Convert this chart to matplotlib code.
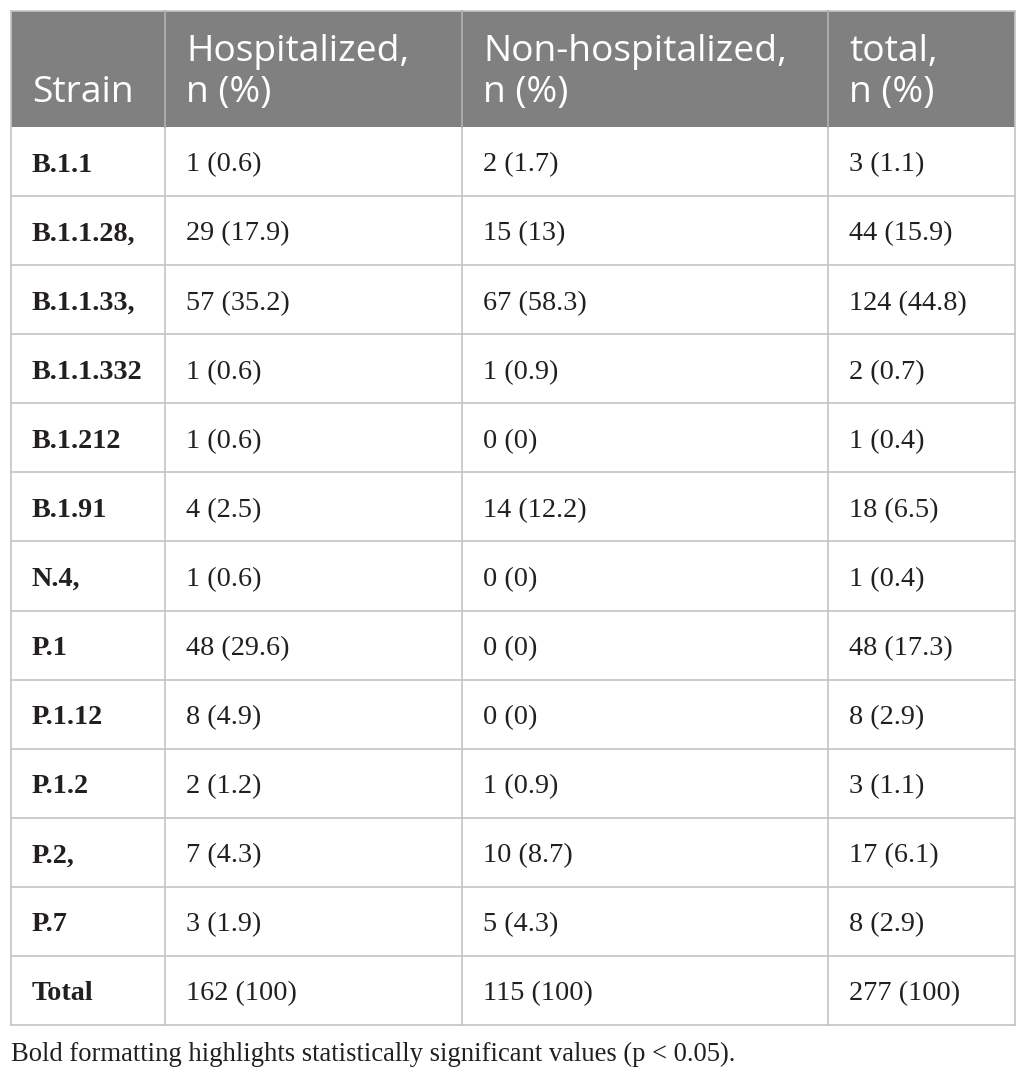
import matplotlib
matplotlib.use("Agg")
import matplotlib.pyplot as plt
from matplotlib.patches import Rectangle

# ---- data ----
headers = [["", "Strain"], ["Hospitalized,", "n (%)"], ["Non-hospitalized,", "n (%)"], ["total,", "n (%)"]]
strains = ["B.1.1", "B.1.1.28,", "B.1.1.33,", "B.1.1.332", "B.1.212", "B.1.91",
           "N.4,", "P.1", "P.1.12", "P.1.2", "P.2,", "P.7", "Total"]
hospitalized = ["1 (0.6)", "29 (17.9)", "57 (35.2)", "1 (0.6)", "1 (0.6)", "4 (2.5)",
                "1 (0.6)", "48 (29.6)", "8 (4.9)", "2 (1.2)", "7 (4.3)", "3 (1.9)", "162 (100)"]
non_hospitalized = ["2 (1.7)", "15 (13)", "67 (58.3)", "1 (0.9)", "0 (0)", "14 (12.2)",
                    "0 (0)", "0 (0)", "0 (0)", "1 (0.9)", "10 (8.7)", "5 (4.3)", "115 (100)"]
total = ["3 (1.1)", "44 (15.9)", "124 (44.8)", "2 (0.7)", "1 (0.4)", "18 (6.5)",
         "1 (0.4)", "48 (17.3)", "8 (2.9)", "3 (1.1)", "17 (6.1)", "8 (2.9)", "277 (100)"]
caption = "Bold formatting highlights statistically significant values (p < 0.05)."

# ---- layout ----
W, H = 1026, 1079
fig = plt.figure(figsize=(W / 100, H / 100), dpi=100)
ax = fig.add_axes([0, 0, 1, 1])
ax.set_xlim(0, W)
ax.set_ylim(H, 0)
ax.axis("off")

left, right = 11, 1015
col_x = [11, 165, 462, 828, 1015]
top, head_bot, bot = 11, 127, 1025
n = len(strains)
row_h = (bot - head_bot) / n
line_c = "#c4c4c4"
head_c = "#808080"
txt_c = "#231f20"

ax.add_patch(Rectangle((left, top), right - left, head_bot - top, facecolor=head_c,
                       edgecolor="none", zorder=1))

# header text (two lines, placed by baseline)
for i, (l1, l2) in enumerate(headers):
    ax.text(col_x[i] + 21, 60.5, l1, color="white", fontsize=26.8,
            family="Open Sans", ha="left", va="baseline", zorder=3)
    ax.text(col_x[i] + 21, 102, l2, color="white", fontsize=26.8,
            family="Open Sans", ha="left", va="baseline", zorder=3)

# body
cols = [strains, hospitalized, non_hospitalized, total]
for r in range(n):
    yb = head_bot + row_h * r + 44.5
    for c, colvals in enumerate(cols):
        ax.text(col_x[c] + 21, yb, colvals[r], fontsize=20.3, family="Liberation Serif",
                fontweight="bold" if c == 0 else "normal", color=txt_c,
                ha="left", va="baseline", zorder=3)

# grid lines
for r in range(1, n):
    y = head_bot + row_h * r
    ax.plot([left, right], [y, y], color=line_c, lw=1.2, zorder=2)
ax.plot([left, right], [bot, bot], color=line_c, lw=1.2, zorder=2)
ax.plot([left, right], [top, top], color=line_c, lw=1.2, zorder=2)
for x in col_x:
    ax.plot([x, x], [top, bot], color=line_c, lw=1.2, zorder=2)
for x in col_x[1:-1]:
    ax.plot([x, x], [top, head_bot], color="#a8a8a8", lw=1.2, zorder=2)

ax.text(11, 1061, caption, fontsize=19.2, family="Liberation Serif", color=txt_c,
        ha="left", va="baseline")

fig.savefig("out.png", dpi=100)
